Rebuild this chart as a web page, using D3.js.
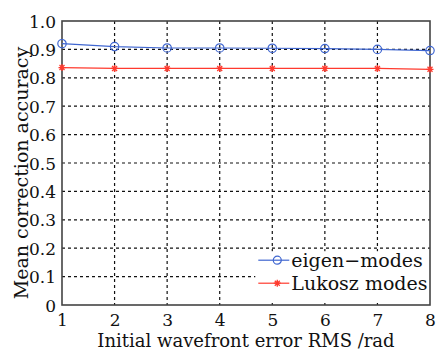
<!DOCTYPE html>
<html>
<head>
<meta charset="utf-8">
<script src="https://cdn.jsdelivr.net/npm/d3@7"></script>
<style>
  body { margin: 0; background: #fff; }
  svg { display: block; }
  text { font-family: "DejaVu Serif", "Liberation Serif", serif; fill: #111; }
</style>
</head>
<body>
<div id="chart"></div>
<script>
// data
var rmsLevels = [1, 2, 3, 4, 5, 6, 7, 8];
var eigenModes = [0.920, 0.910, 0.905, 0.905, 0.904, 0.903, 0.900, 0.896];
var lukoszModes = [0.836, 0.833, 0.833, 0.833, 0.833, 0.833, 0.833, 0.830];
var yTicks = [0, 0.1, 0.2, 0.3, 0.4, 0.5, 0.6, 0.7, 0.8, 0.9, 1.0];
var seriesNames = ["eigen\u2212modes", "Lukosz modes"];

var width = 437, height = 351;
var margin = { top: 21, right: 7, bottom: 46, left: 62 };
var innerW = width - margin.left - margin.right;
var innerH = height - margin.top - margin.bottom;
var blue = "#3f66d0", red = "#ff3a2e";

var svg = d3.select("#chart").append("svg")
  .attr("width", width)
  .attr("height", height);

var g = svg.append("g")
  .attr("transform", "translate(" + margin.left + "," + margin.top + ")");

var x = d3.scaleLinear().domain([1, 8]).range([0, innerW]);
var y = d3.scaleLinear().domain([0, 1]).range([innerH, 0]);

// dashed grid
g.append("g").selectAll("line")
  .data(rmsLevels.slice(1, -1))
  .enter().append("line")
  .attr("x1", d => x(d)).attr("x2", d => x(d))
  .attr("y1", 0).attr("y2", innerH)
  .attr("stroke", "#111").attr("stroke-width", 1.2)
  .attr("stroke-dasharray", "3,3");

g.append("g").selectAll("line")
  .data(yTicks.slice(1, -1))
  .enter().append("line")
  .attr("x1", 0).attr("x2", innerW)
  .attr("y1", d => y(d)).attr("y2", d => y(d))
  .attr("stroke", "#111").attr("stroke-width", 1.2)
  .attr("stroke-dasharray", "3,3");

// axes
var xAxis = g.append("g")
  .attr("transform", "translate(0," + innerH + ")")
  .call(d3.axisBottom(x).tickValues(rmsLevels).tickSize(0).tickPadding(0).tickFormat(d3.format("d")));
var yAxis = g.append("g")
  .call(d3.axisLeft(y).tickValues(yTicks).tickSize(0).tickPadding(6)
    .tickFormat(d => d === 0 ? "0" : d3.format(".1f")(d)));
[xAxis, yAxis].forEach(a => {
  a.select(".domain").remove();
  a.selectAll("text").style("font-size", "17px").attr("fill", "#111")
    .style("font-family", "'DejaVu Serif', serif");
});
xAxis.selectAll("text").attr("y", 21).attr("dy", null);
yAxis.selectAll("text").attr("dy", "0.36em");

// legend background
var lg = g.append("g").attr("transform", "translate(" + (x(5) - 17) + "," + (y(0.2) + 3) + ")");
lg.append("rect")
  .attr("width", innerW - (x(5) - 17)).attr("height", 50)
  .attr("fill", "#fff");

// frame
g.append("rect")
  .attr("width", innerW).attr("height", innerH)
  .attr("fill", "none").attr("stroke", "#444").attr("stroke-width", 1.6);

var line = d3.line().x((d, i) => x(rmsLevels[i])).y(d => y(d));

function star(sel) {
  sel.append("path")
    .attr("d", "M-3.5,0H3.5M0,-3.5V3.5M-2.5,-2.5L2.5,2.5M-2.5,2.5L2.5,-2.5")
    .attr("stroke", red).attr("stroke-width", 1.3);
}

// eigen-modes
g.append("path").datum(eigenModes)
  .attr("d", line).attr("fill", "none").attr("stroke", blue).attr("stroke-width", 1.2);
g.selectAll(".eig").data(eigenModes).enter().append("circle")
  .attr("class", "eig")
  .attr("cx", (d, i) => x(rmsLevels[i])).attr("cy", d => y(d))
  .attr("r", 4.2).attr("fill", "none").attr("stroke", blue).attr("stroke-width", 1.2);

// Lukosz modes
g.append("path").datum(lukoszModes)
  .attr("d", line).attr("fill", "none").attr("stroke", red).attr("stroke-width", 1.2);
g.selectAll(".luk").data(lukoszModes).enter().append("g")
  .attr("class", "luk")
  .attr("transform", (d, i) => "translate(" + x(rmsLevels[i]) + "," + y(d) + ")")
  .call(star);

// legend entries
var rows = lg.selectAll(".row").data(seriesNames).enter().append("g")
  .attr("class", "row")
  .attr("transform", (d, i) => "translate(0," + (9 + i * 23) + ")");
rows.append("line").attr("x1", 3).attr("x2", 34).attr("y1", 0).attr("y2", 0)
  .attr("stroke", (d, i) => i ? red : blue).attr("stroke-width", 1.2);
rows.filter((d, i) => i === 0).append("circle")
  .attr("cx", 22).attr("cy", 0).attr("r", 4).attr("fill", "none")
  .attr("stroke", blue).attr("stroke-width", 1.2);
rows.filter((d, i) => i === 1).append("g").attr("transform", "translate(22,0)").call(star);
rows.append("text").attr("x", 36).attr("y", 0).attr("dy", "0.35em")
  .style("font-size", "19px").text(d => d);

// axis titles
svg.append("text")
  .attr("x", 246).attr("y", 347)
  .attr("text-anchor", "middle").style("font-size", "18px")
  .text("Initial wavefront error RMS /rad");
svg.append("text")
  .attr("transform", "translate(21," + 173 + ") rotate(-90)")
  .attr("text-anchor", "middle").attr("dy", "0.35em").style("font-size", "19px")
  .text("Mean correction accuracy");
</script>
</body>
</html>
